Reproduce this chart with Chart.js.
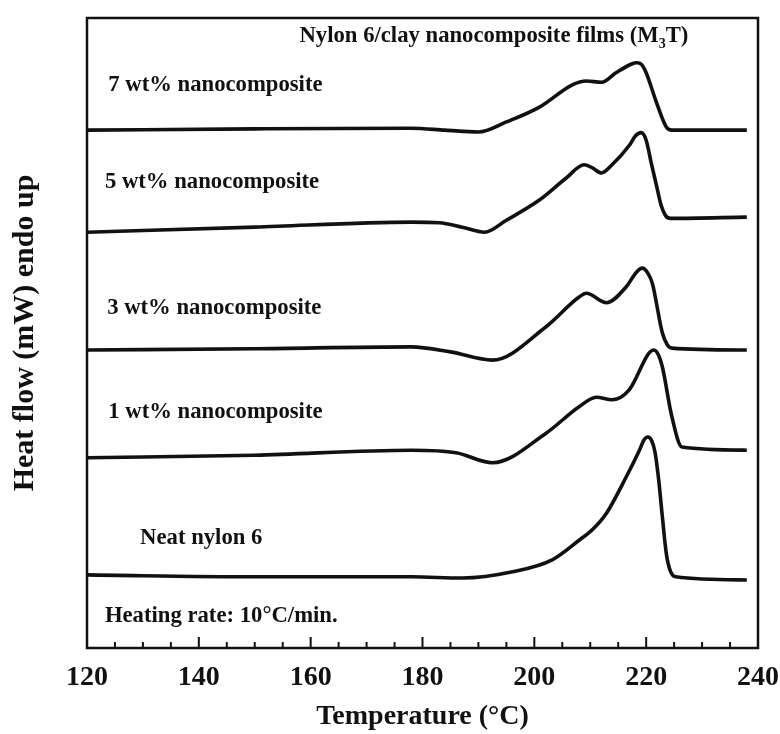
<!DOCTYPE html>
<html>
<head>
<meta charset="utf-8">
<script src="https://cdn.jsdelivr.net/npm/chart.js@4"></script>
<style>
  body { margin: 0; background: #fff; }
  canvas { display: block; }
</style>
</head>
<body>
<canvas id="dscChart" width="780" height="734"></canvas>
<script>
// DSC heating curves, temperature (°C) vs heat flow (arbitrary, curves stacked)
const wt7 = [[120, 82.2], [150, 82.4], [178, 82.5], [184, 82.2], [190, 81.9], [195, 83.5], [201, 85.9],
  [206.8, 89.4], [209.3, 90.0], [212, 89.8], [214.6, 91.3], [217.4, 92.7], [218.3, 92.9], [219.2, 92.6],
  [220, 91.3], [221.8, 86.7], [223.6, 82.7], [224.6, 82.2], [238, 82.2]];
const wt5 = [[120, 66.0], [150, 66.8], [178, 67.6], [183, 67.5], [187.1, 66.8], [191.1, 66.0], [195, 67.9],
  [200.9, 71.1], [205.7, 74.6], [208.9, 76.7], [210.4, 76.2], [212, 75.4], [213.9, 76.7], [217, 79.8],
  [218.1, 81.3], [219.1, 81.8], [220.0, 80.6], [220.9, 77.0], [221.8, 73.6], [222.7, 70.2], [223.5, 68.6],
  [224.4, 68.2], [238, 68.4]];
const wt3 = [[120, 47.3], [150, 47.5], [178, 47.8], [185, 47.0], [192.5, 45.7], [202.1, 51.0], [208, 55.7],
  [209.3, 56.3], [212.9, 54.8], [216.4, 57.3], [218.3, 59.7], [219.3, 60.3], [220.3, 59.5], [221.1, 57.9],
  [222.9, 50.0], [223.8, 48.1], [224.6, 47.6], [238, 47.3]];
const wt1 = [[120, 30.2], [150, 30.6], [178, 31.4], [186, 31.0], [192.5, 29.4], [202.1, 34.1], [208, 38.3],
  [211.1, 39.8], [213.9, 39.4], [217, 41.0], [220.5, 46.8], [221.4, 47.3], [222.2, 46.5], [222.9, 44.6],
  [224.6, 36.7], [226.4, 31.9], [238, 31.4]];
const neat = [[120, 11.6], [150, 11.3], [178, 11.3], [187.1, 11.1], [196.1, 12.1], [203.2, 14.0], [208, 17.1],
  [210.5, 18.9], [212.9, 21.4], [216.4, 27.1], [218.8, 31.4], [219.6, 33.0], [220.3, 33.5], [221.0, 32.9],
  [221.6, 31.0], [222.2, 27.0], [222.9, 20.8], [223.6, 15.0], [224.3, 12.3], [225.3, 11.3], [238, 10.8]];

const xTicks = [120, 140, 160, 180, 200, 220, 240];

// text inside the frame, anchored in data units (left edge, middle)
const notes = [
  { text: "7 wt% nanocomposite", x: 123.8, y: 89.4 },
  { text: "5 wt% nanocomposite", x: 123.2, y: 74.0 },
  { text: "3 wt% nanocomposite", x: 123.6, y: 54.0 },
  { text: "1 wt% nanocomposite", x: 123.8, y: 37.4 },
  { text: "Neat nylon 6", x: 129.5, y: 17.5 },
  { text: "Heating rate: 10°C/min.", x: 123.2, y: 5.0 }
];

const serif = '"Liberation Serif", "Times New Roman", serif';

function toPoints(arr) {
  return arr.map(p => ({ x: p[0], y: p[1] }));
}

function curve(label, arr) {
  return {
    label,
    data: toPoints(arr),
    borderColor: "#111",
    borderWidth: 3.6,
    pointRadius: 0,
    fill: false,
    cubicInterpolationMode: "monotone"
  };
}

const framePlugin = {
  id: "frame",
  afterDraw(chart) {
    const { ctx, chartArea: a, scales } = chart;
    const xs = scales.x, ys = scales.y;
    ctx.save();
    ctx.strokeStyle = "#111";
    ctx.lineWidth = 2.5;
    ctx.strokeRect(a.left, a.top, a.right - a.left, a.bottom - a.top);

    // inward ticks, long at labelled values
    ctx.lineWidth = 2;
    xs.ticks.forEach(t => {
      const px = xs.getPixelForValue(t.value);
      const len = xTicks.includes(t.value) ? 11 : 6;
      ctx.beginPath();
      ctx.moveTo(px, a.bottom);
      ctx.lineTo(px, a.bottom - len);
      ctx.stroke();
    });

    ctx.fillStyle = "#111";
    ctx.textBaseline = "middle";
    ctx.textAlign = "left";
    ctx.font = "bold 22.7px " + serif;
    notes.forEach(n => {
      ctx.fillText(n.text, xs.getPixelForValue(n.x), ys.getPixelForValue(n.y));
    });

    // heading with subscript
    let hx = xs.getPixelForValue(158.0);
    const hy = ys.getPixelForValue(97.1);
    const part1 = "Nylon 6/clay nanocomposite films (M";
    ctx.fillText(part1, hx, hy);
    hx += ctx.measureText(part1).width;
    ctx.font = "bold 14px " + serif;
    ctx.fillText("3", hx, hy + 8);
    hx += ctx.measureText("3").width;
    ctx.font = "bold 22.7px " + serif;
    ctx.fillText("T)", hx, hy);
    ctx.restore();
  }
};

new Chart(document.getElementById("dscChart"), {
  type: "line",
  data: {
    datasets: [
      curve("7 wt% nanocomposite", wt7),
      curve("5 wt% nanocomposite", wt5),
      curve("3 wt% nanocomposite", wt3),
      curve("1 wt% nanocomposite", wt1),
      curve("Neat nylon 6", neat)
    ]
  },
  options: {
    responsive: false,
    animation: false,
    devicePixelRatio: 1,
    layout: { padding: { left: 7, top: 18, right: 22, bottom: 0 } },
    plugins: {
      legend: { display: false },
      tooltip: { enabled: false }
    },
    scales: {
      x: {
        type: "linear",
        min: 120,
        max: 240,
        afterFit(scale) {
          scale.height = 86;
          scale.paddingLeft = 0;
          scale.paddingRight = 0;
        },
        grid: { display: false },
        border: { display: false },
        ticks: {
          stepSize: 5,
          autoSkip: false,
          maxRotation: 0,
          padding: 5,
          color: "#111",
          font: { family: serif, size: 28, weight: "bold" },
          callback: v => (xTicks.includes(v) ? String(v) : "")
        },
        title: {
          display: true,
          text: "Temperature (°C)",
          color: "#111",
          padding: { top: 0, bottom: 0 },
          font: { family: serif, size: 28, weight: "bold" }
        }
      },
      y: {
        min: 0,
        max: 100,
        afterFit(scale) { scale.width = 80; },
        grid: { display: false },
        border: { display: false },
        ticks: { display: false },
        title: {
          display: true,
          text: "Heat flow (mW) endo up",
          color: "#111",
          padding: { top: 0, bottom: 0 },
          font: { family: serif, size: 30, weight: "bold" }
        }
      }
    }
  },
  plugins: [framePlugin]
});
</script>
</body>
</html>
